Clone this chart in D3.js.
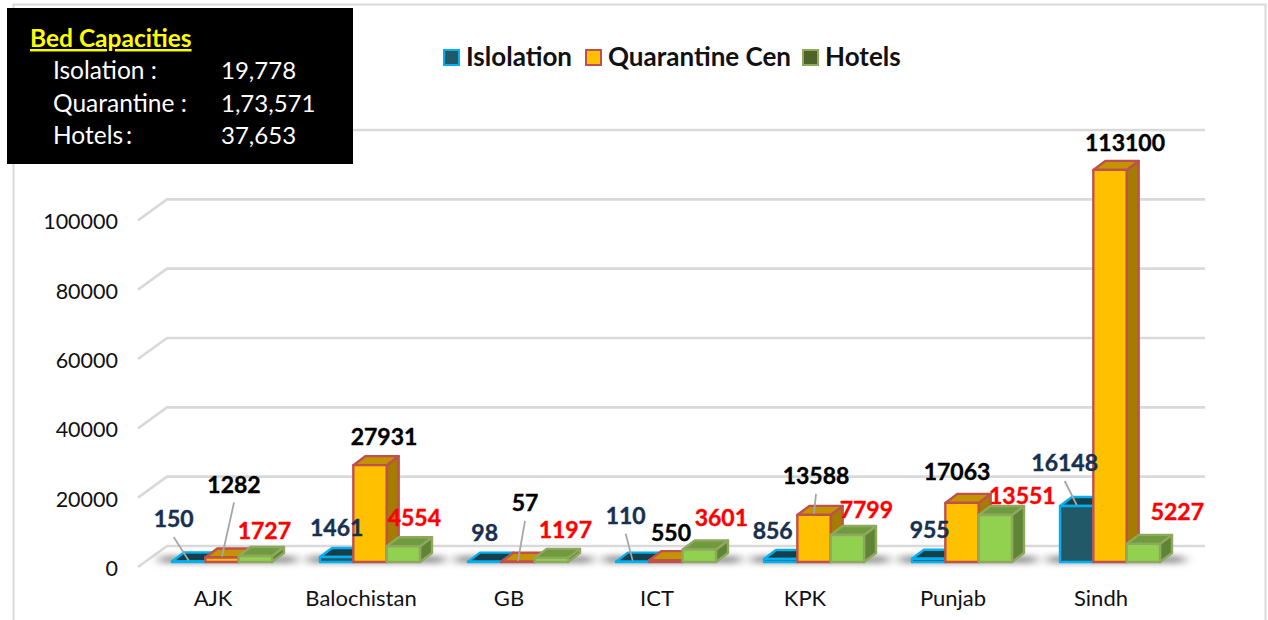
<!DOCTYPE html>
<html><head><meta charset="utf-8">
<script src="https://cdn.jsdelivr.net/npm/d3@7"></script>
<style>html,body{margin:0;background:#fff;overflow:hidden}svg{display:block}</style>
</head><body><div id="c"></div>
<script>
const categories = ["AJK","Balochistan","GB","ICT","KPK","Punjab","Sindh"];
const seriesNames = ["Islolation","Quarantine Cen","Hotels"];
const isolation = [150,1461,98,110,856,955,16148];
const quarantine = [1282,27931,57,550,13588,17063,113100];
const hotels = [1727,4554,1197,3601,7799,13551,5227];
const yTicks = [0,20000,40000,60000,80000,100000];
const gridTicks = [0,20000,40000,60000,80000,100000,120000];
const summaryTitle = "Bed Capacities";
const summaryNames = ["Isolation :","Quarantine :","Hotels\u2009:"];
const summaryValues = ["19,778","1,73,571","37,653"];

// layout (separate from data): hand-placed label nudges relative to the bar's front-top centre
const labelNudge = [
 [[-15,-42.5],[0,-29],[0,-29],[-7,-46],[-8,-28],[1,-29],[-12,-43]],
 [[12,-73],[14,-28],[7,-59],[5,-27],[2,-39],[-5,-31],[15,-27]],
 [[9,-25],[11,-28],[14,-28],[22,-31.5],[19,-25],[27,-19],[34,-32]]
];
const leaders = [[0,0],[1,0],[1,2],[0,3],[1,4],[0,6]];
const palette = [
 {front:"#215968",top:"#163f49",side:"#163f49",stroke:"#00b0f0",text:"#17304f",key:"#215968"},
 {front:"#ffc000",top:"#c49300",side:"#a67c00",stroke:"#c0504d",text:"#000000",key:"#ffc000"},
 {front:"#92d050",top:"#6f9a3d",side:"#5f8436",stroke:"#8fa860",text:"#ff0000",key:"#4f6228"}
];
const seriesValues = [isolation,quarantine,hotels];
const W=1268,H=620, depthX=12, depthY=9, wallX=29, wallY=21;
const F="Lato, 'Open Sans', sans-serif";

const svg=d3.select("#c").append("svg").attr("width",W).attr("height",H);
const defs=svg.append("defs");
defs.append("filter").attr("id","blur").attr("x","-20%").attr("y","-300%").attr("width","140%").attr("height","700%")
  .append("feGaussianBlur").attr("stdDeviation","6 3");

const y=d3.scaleLinear().domain([0,120000]).range([562,146]);
const x0=d3.scaleBand().domain(categories).range([139,1175]);
const x1=d3.scaleBand().domain(d3.range(3)).range([33,133]);

// frame
svg.append("path").attr("d",`M13.5,${H} V4.5 H1265.5 V${H}`).attr("fill","none").attr("stroke","#d9d9d9").attr("stroke-width",2);

// grid: back wall with floor/side diagonal
const grid=svg.append("g");
gridTicks.forEach(v=>{
  const yb=y(v)-16;
  grid.append("path").attr("d",`M${138},${yb+wallY} L${138+wallX},${yb} H1205`)
    .attr("fill","none").attr("stroke","#d9d9d9").attr("stroke-width",2.6);
});

// floor shadows
svg.append("g").selectAll("rect").data(categories).join("rect")
  .attr("x",c=>x0(c)+x1(0)-12).attr("width",x1.bandwidth()*3+36)
  .attr("y",556).attr("height",7).attr("fill","#8f8f8f").attr("filter","url(#blur)");

// axes
const yAxis=d3.axisLeft(y).tickValues(yTicks).tickSize(0).tickPadding(0).tickFormat(d3.format("d"));
const ya=svg.append("g").attr("transform","translate(118,6.5)").call(yAxis);
ya.select(".domain").remove();
ya.selectAll("text").attr("font-family",F).attr("font-size",21.5).attr("fill","#111");
const xAxis=d3.axisBottom(x0).tickSize(0).tickPadding(0);
const xa=svg.append("g").attr("transform","translate(0,590)").call(xAxis);
xa.select(".domain").remove();
xa.selectAll("text").attr("font-family",F).attr("font-size",22).attr("fill","#111");

// bars: painter's order, series by series within each category
const bars=svg.append("g");
categories.forEach((c,i)=>{
  seriesValues.forEach((vals,s)=>{
    const p=palette[s], l=x0(c)+x1(s), w=x1.bandwidth(), t=y(vals[i]), b=y(0);
    const g=bars.append("g").attr("stroke",p.stroke).attr("stroke-width",2.4).attr("stroke-linejoin","round");
    g.append("path").attr("fill",p.side)
      .attr("d",`M${l+w},${t} L${l+w+depthX},${t-depthY} V${b-depthY} L${l+w},${b} Z`);
    g.append("path").attr("fill",p.top)
      .attr("d",`M${l},${t} L${l+depthX},${t-depthY} H${l+w+depthX} L${l+w},${t} Z`);
    g.append("rect").attr("x",l).attr("y",t).attr("width",w).attr("height",Math.max(b-t,0)).attr("fill",p.front);
  });
});

// leader lines
const anchor=(s,i)=>[x0(categories[i])+x1(s)+x1.bandwidth()/2, y(seriesValues[s][i])];
svg.append("g").selectAll("line").data(leaders).join("line")
  .attr("x1",d=>anchor(d[0],d[1])[0]+labelNudge[d[0]][d[1]][0])
  .attr("y1",d=>anchor(d[0],d[1])[1]+labelNudge[d[0]][d[1]][1]+18)
  .attr("x2",d=>anchor(d[0],d[1])[0]).attr("y2",d=>anchor(d[0],d[1])[1]-1)
  .attr("stroke","#a6a6a6").attr("stroke-width",1.8);

// data labels
const lab=svg.append("g").attr("font-family",F).attr("font-weight",700).attr("font-size",23).attr("text-anchor","middle");
seriesValues.forEach((vals,s)=>{
  lab.append("g").attr("fill",palette[s].text).attr("stroke",palette[s].text).attr("stroke-width",0.4)
    .selectAll("text").data(vals).join("text")
    .attr("x",(d,i)=>anchor(s,i)[0]+labelNudge[s][i][0])
    .attr("y",(d,i)=>anchor(s,i)[1]+labelNudge[s][i][1])
    .attr("dy","0.36em").text(d=>d);
});

// legend
const legendX=d3.scaleOrdinal().domain(seriesNames).range([443,585,802]);
const leg=svg.append("g").selectAll("g").data(seriesNames).join("g")
  .attr("transform",d=>`translate(${legendX(d)},50)`);
leg.append("rect").attr("x",1).attr("y",0).attr("width",15).attr("height",15)
  .attr("fill",(d,i)=>palette[i].key).attr("stroke",(d,i)=>palette[i].stroke).attr("stroke-width",2);
leg.append("text").attr("x",23).attr("y",16).attr("font-family",F).attr("font-weight",700).attr("font-size",26)
  .attr("fill","#111").text(d=>d);

// summary box
const box=svg.append("g");
box.append("rect").attr("x",7).attr("y",8).attr("width",346).attr("height",156).attr("fill","#000");
box.append("text").attr("x",30).attr("y",47).attr("font-family",F).attr("font-weight",700).attr("font-size",24.5)
  .attr("fill","#ffff00").attr("text-decoration","underline").text(summaryTitle);
const rowY=d3.scalePoint().domain(d3.range(3)).range([79,144]);
summaryNames.forEach((n,i)=>{
  box.append("text").attr("x",53).attr("y",rowY(i)).attr("font-family",F).attr("font-size",24.5).attr("fill","#fff").text(n);
  box.append("text").attr("x",221).attr("y",rowY(i)).attr("font-family",F).attr("font-size",24).attr("fill","#fff").text(summaryValues[i]);
});
</script></body></html>
